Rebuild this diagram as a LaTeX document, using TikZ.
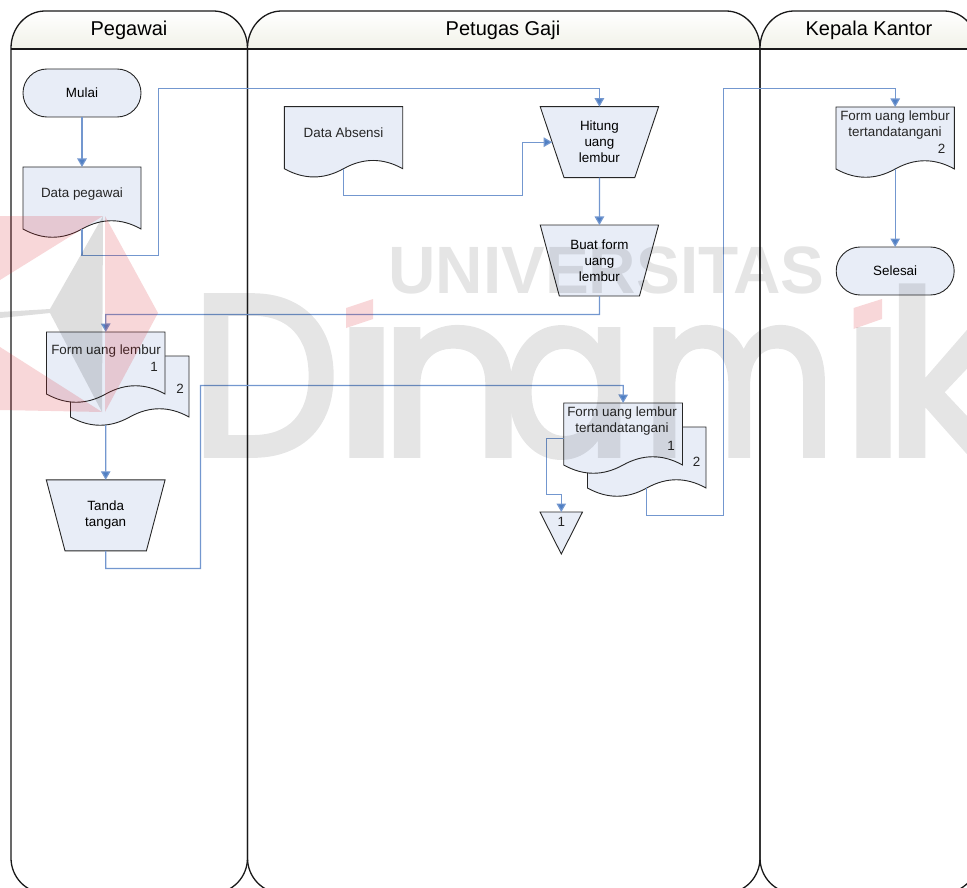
\documentclass[tikz,border=0pt]{standalone}
\usepackage{fontspec}
\setmainfont{Liberation Sans}
\newfontfamily\wmfont[FakeBold=2.5]{Poppins}
\usetikzlibrary{shapes.geometric, arrows.meta, positioning}

\definecolor{shapefill}{HTML}{E8EDF7}
\definecolor{flowblue}{HTML}{7397CF}
\definecolor{tipblue}{HTML}{4F7FC4}
\definecolor{laneshade}{HTML}{F1F2E8}
\definecolor{wmred}{HTML}{D8222A}

% document symbol: name, left, top, width, height of straight part
\newcommand{\docshape}[5]{
    \draw[flowshape] (#2,#3) -- ++(#4,0) -- ++(0,#5)
        .. controls +({-#4/6},-11) and +({#4/6},-11) .. ++({-#4/2},0)
        .. controls +({-#4/6},11) and +({#4/6},11) .. ++({-#4/2},0) -- cycle;
    \node[docbox, minimum width=#4pt, minimum height=#5pt] (#1) at (#2,#3) {};
}
% outline of a swimlane: left, right
\newcommand{\lanepath}[2]{
    (#1,48) .. controls (#1,28) and ({#1+15},11) .. ({#1+34},11)
    -- ({#2-34},11) .. controls ({#2-15},11) and (#2,28) .. (#2,48)
    -- (#2,858) .. controls (#2,877) and ({#2-15},893) .. ({#2-34},893)
    -- ({#1+34},893) .. controls ({#1+15},893) and (#1,877) .. (#1,858) -- cycle
}

\begin{document}
\begin{tikzpicture}[x=1pt, y=-1pt,
        flowshape/.style={draw=black!85, fill=shapefill, line width=0.9pt},
        docbox/.style={rectangle, anchor=north west, inner sep=0pt, outer sep=0pt},
        terminator/.style={flowshape, rectangle, rounded corners=23.9pt, minimum width=118pt, minimum height=48pt, outer sep=0pt, font=\fontsize{13.4}{16}\selectfont},
        manual/.style={flowshape, trapezium, trapezium left angle=71.7, trapezium right angle=71.7, shape border rotate=180, trapezium stretches=true, minimum width=119pt, minimum height=71pt, inner sep=0pt, outer sep=0pt, align=center, font=\fontsize{13.4}{16}\selectfont},
        txt/.style={align=center, inner sep=0pt, text=black!85, font=\fontsize{13.4}{16}\selectfont},
        header/.style={inner sep=0pt, font=\fontsize{20}{24}\selectfont},
        lane/.style={draw=black!90, line width=1.3pt},
        arrow/.style={-{Triangle[length=8.5pt, width=9.5pt, fill=tipblue]}, draw=flowblue, line width=1.2pt},
        wmletter/.style={anchor=base west, inner sep=0pt, font=\wmfont\fontsize{228}{228}\selectfont}
    ]
    \useasboundingbox (0,0) rectangle (967,888);

    % Lanes
    \begin{scope}
        \clip (0,0) rectangle (967,888);
        \foreach \xa/\xb in {11/247.5, 247.5/760, 760/978} {
            \begin{scope}
                \clip \lanepath{\xa}{\xb};
                \shade[top color=white, bottom color=laneshade] (\xa,11) rectangle (\xb,49);
            \end{scope}
            \draw[lane] \lanepath{\xa}{\xb};
            \draw[lane] (\xa,49) -- (\xb,49);
        }
    \end{scope}
    \node[header] (pegawai) at (129,30) {Pegawai};
    \node[header] (petugas) at (503,30) {Petugas Gaji};
    \node[header] (kepala) at (869,30) {Kepala Kantor};

    % Pegawai
    \node[terminator] (mulai) at (82,93) {Mulai};
    \docshape{datapeg}{23}{167}{118}{62}
    \node[txt] (datapeg-text) at (82,194) {Data pegawai};
    \docshape{formb}{70.5}{356}{118.5}{61}
    \docshape{forma}{46.5}{332}{118.5}{62}
    \node[txt] (forma-text) at (106,351.5) {Form uang lembur};
    \node[txt, anchor=east] (forma-no) at (158,367) {1};
    \node[txt] (formb-no) at (180,389) {2};
    \node[manual] (tanda) at (105.7,515.3) {Tanda\\tangan};
    \coordinate (formb-out) at (105.7,425);

    % Petugas Gaji
    \docshape{absensi}{284.3}{106.7}{118.4}{62}
    \node[txt] (absensi-text) at (343.5,133) {Data Absensi};
    \node[manual] (hitung) at (599.4,142.2) {Hitung\\uang\\lembur};
    \node[manual] (buat) at (599.4,260.5) {Buat form\\uang\\lembur};
    \docshape{ttdb}{587.5}{427}{118.5}{61}
    \docshape{ttda}{563.7}{403}{118.8}{62}
    \node[txt] (ttda-text) at (622,421.5) {Form uang lembur\\tertandatangani};
    \node[txt, anchor=east] (ttda-no) at (675,445.7) {1};
    \node[txt] (ttdb-no) at (696.7,461.7) {2};
    \draw[flowshape] (540,512) -- (582.5,512) -- (561.3,554) -- cycle;
    \node[txt, anchor=north, inner ysep=5pt] (keluar) at (561.3,512) {1};

    % Kepala Kantor
    \docshape{ttdc}{836}{107}{118.4}{62}
    \node[txt] (ttdc-text) at (895,125) {Form uang lembur\\tertandatangani};
    \node[txt, anchor=east] (ttdc-no) at (945.5,149) {2};
    \node[terminator] (selesai) at (895.2,271) {Selesai};

    % Arrows
    \draw[arrow] (mulai) -- (datapeg);
    \draw[arrow] (datapeg.south) |- (158.5,255.5) -- (158.5,88.5) -| (hitung.north);
    \draw[arrow] (absensi.south) |- (522.5,195.5) |- (hitung.west);
    \draw[arrow] (hitung.south) -- (buat.north);
    \draw[arrow] (buat.south) |- (105.7,314.5) -- (forma.north);
    \draw[arrow] (formb-out) -- (tanda.north);
    \draw[arrow] (tanda.south) |- (200.5,568.5) |- (623.3,385.5) -- (ttda.north);
    \draw[arrow] (ttda.west |- 0,438.5) -| (546.5,494.5) -| (keluar.north);
    \draw[arrow] (ttdb.south) |- (723.5,515.5) |- (895.2,88.5) -- (ttdc.north);
    \draw[arrow] (ttdc.south) -- (selesai.north);

    % Background logo
    \begin{scope}
        \clip (0,0) rectangle (967,888);
        \fill[wmred, opacity=0.18] (0,216) -- (103,216) -- (0,280) -- cycle;
        \fill[wmred, opacity=0.18] (105,216) -- (158,313) -- (105,412) -- cycle;
        \fill[wmred, opacity=0.18] (0,347) -- (102,412) -- (0,410) -- cycle;
        \fill[black, opacity=0.13] (103,216) -- (50,309) -- (0,312) -- (0,318) -- (50,313) -- (102,412) -- cycle;
        \begin{scope}[transparency group, opacity=0.1]
            \node[anchor=base west, inner sep=0pt, font=\bfseries\fontsize{67}{67}\selectfont] (univ) at (388,293) {\scalebox{0.98}[1]{UNIVERSITAS}};
            \foreach \letter/\xpos/\xsc in {D/190/0.93, ı/330/1.3, n/379/1.0, a/503/0.84, m/641/0.83, ı/837/1.3, k/884/1.0} {
                \node[wmletter] at (\xpos,455) {\scalebox{\xsc}[1]{\letter}};
            }
        \end{scope}
        \fill[wmred, opacity=0.18] (346,308) -- (373,299) -- (373,319) -- (346,328) -- cycle;
        \fill[wmred, opacity=0.18] (853.5,308) -- (882,299) -- (882,319) -- (853.5,329) -- cycle;
    \end{scope}
\end{tikzpicture}
\end{document}
